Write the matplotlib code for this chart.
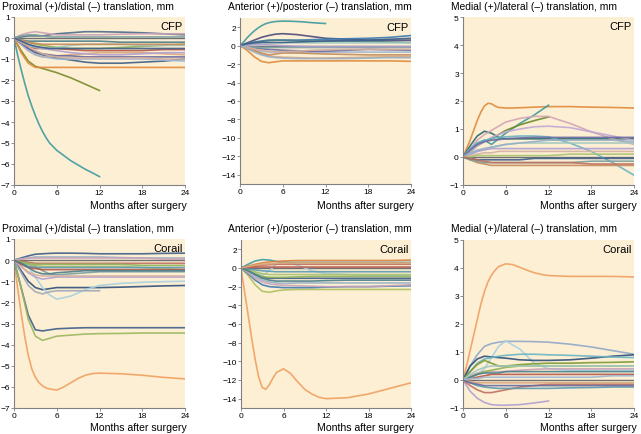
import numpy as np
import matplotlib
matplotlib.use("Agg")
import matplotlib.pyplot as plt

plt.rcParams['font.family'] = ['Liberation Sans', 'DejaVu Sans']

# months after surgery at which values were read
months = [0, 1, 2, 3, 4, 5, 6, 8, 10, 12, 15, 18, 21, 24]
# denser reading for the few curves that bend sharply
months_fine = [0, 0.5, 1, 1.5, 2, 2.5, 3, 3.5, 4, 4.5, 5, 6, 7, 8, 9, 10, 11, 12, 15, 18, 21, 24]

# ---- CFP proximal/distal
cfp_pd = [
    [0, -0.8, -1.5, -2.15, -2.75, -3.25, -3.7, -4.1, -4.45, -4.75, -5.0, -5.35, -5.6, -5.85, -6.05, -6.25, -6.42, -6.6],
    [0, -0.6, -1.1, -1.35, -1.45, -1.55, -1.65, -1.9, -2.2, -2.5],
    [0, -0.7, -1.2, -1.4, -1.4, -1.4, -1.4, -1.4, -1.4, -1.4, -1.4, -1.4, -1.4, -1.4],
    [0, -0.2, -0.5, -0.7, -0.8, -0.9, -0.95, -1.05, -1.15, -1.2, -1.2, -1.15, -1.1, -1.0],
    [0, 0.05, 0.1, 0.1, 0.1, 0.15, 0.2, 0.25, 0.3, 0.3, 0.28, 0.25, 0.2, 0.15],
    [0, 0.15, 0.25, 0.3, 0.25, 0.2, 0.15, 0.15, 0.15, 0.15, 0.18, 0.2, 0.2, 0.2],
    [0, -0.1, -0.2, -0.3, -0.35, -0.4, -0.45, -0.5, -0.5, -0.5, -0.45, -0.4, -0.35, -0.3],
    [0, -0.2, -0.4, -0.5, -0.5, -0.5, -0.5, -0.55, -0.6, -0.6, -0.6, -0.6, -0.55, -0.55],
    [0, -0.1, -0.15, -0.15, -0.15, -0.15, -0.15, -0.15, -0.15, -0.15, -0.2, -0.2, -0.2, -0.2],
    [0, -0.3, -0.6, -0.8, -0.9, -0.9, -0.85, -0.8, -0.75, -0.7, -0.7, -0.7, -0.75, -0.8],
    [0, -0.3, -0.6, -0.8, -0.9, -0.95, -1.0, -1.0, -1.0, -1.0, -1.0, -1.0, -1.05, -1.1],
    [0, -0.25, -0.5, -0.65, -0.75, -0.8, -0.85, -0.85, -0.9, -0.9, -0.9, -0.9, -0.9, -0.9],
    [0, -0.2, -0.35, -0.45, -0.5, -0.5, -0.45, -0.35, -0.3, -0.3, -0.3, -0.35, -0.35, -0.35],
    [0, -0.1, -0.2, -0.25, -0.3, -0.3, -0.3, -0.3, -0.3, -0.3, -0.3, -0.3, -0.3, -0.3],
    [0, 0.1, 0.15, 0.15, 0.1, 0.05, 0.05, 0.05, 0.05, 0.05, 0.05, 0.05, 0.05, 0.05],
    [0, -0.15, -0.3, -0.4, -0.5, -0.55, -0.6, -0.7, -0.75, -0.8, -0.8, -0.75, -0.7, -0.7],
    [0, -0.2, -0.4, -0.6, -0.75, -0.85, -0.9, -0.95, -0.95, -0.95, -0.95, -0.95, -1.0, -1.0],
    [0, -0.15, -0.3, -0.4, -0.45, -0.5, -0.5, -0.5, -0.5, -0.5, -0.5, -0.5, -0.5, -0.5],
]

# ---- CFP anterior/posterior
cfp_ap = [
    [0, 0.4, 0.85, 1.25, 1.6, 1.9, 2.15, 2.35, 2.48, 2.56, 2.62, 2.66, 2.65, 2.62, 2.57, 2.5, 2.45, 2.4],
    [0, -0.5, -1.2, -1.7, -1.85, -1.75, -1.65, -1.65, -1.65, -1.65, -1.65, -1.65, -1.65, -1.7],
    [0, 0.3, 0.6, 0.9, 1.1, 1.25, 1.3, 1.2, 1.0, 0.8, 0.7, 0.6, 0.6, 0.6],
    [0, 0.2, 0.4, 0.5, 0.6, 0.6, 0.6, 0.6, 0.65, 0.7, 0.75, 0.8, 0.9, 1.1],
    [0, 0.15, 0.3, 0.45, 0.55, 0.6, 0.6, 0.55, 0.5, 0.5, 0.5, 0.45, 0.4, 0.35],
    [0, -0.3, -0.6, -0.9, -1.1, -1.2, -1.25, -1.3, -1.35, -1.35, -1.3, -1.25, -1.2, -1.2],
    [0, -0.2, -0.4, -0.6, -0.7, -0.7, -0.7, -0.7, -0.7, -0.7, -0.7, -0.7, -0.7, -0.7],
    [0, -0.1, -0.25, -0.35, -0.4, -0.45, -0.5, -0.55, -0.6, -0.6, -0.5, -0.4, -0.45, -0.5],
    [0, 0.1, 0.2, 0.3, 0.3, 0.3, 0.3, 0.3, 0.3, 0.3, 0.3, 0.3, 0.3, 0.3],
    [0, -0.2, -0.5, -0.8, -1.0, -0.9, -0.8, -0.8, -0.85, -0.9, -0.95, -1.0, -1.0, -1.0],
    [0, -0.1, -0.15, -0.2, -0.2, -0.2, -0.2, -0.2, -0.2, -0.2, -0.2, -0.2, -0.2, -0.2],
    [0, 0.05, 0.1, 0.1, 0.1, 0.05, 0.0, -0.05, -0.1, -0.1, -0.1, -0.1, -0.1, -0.1],
    [0, -0.15, -0.35, -0.5, -0.6, -0.65, -0.65, -0.6, -0.5, -0.45, -0.4, -0.4, -0.4, -0.4],
    [0, 0.2, 0.3, 0.35, 0.35, 0.35, 0.35, 0.4, 0.45, 0.5, 0.55, 0.6, 0.7, 0.8],
    [0, -0.3, -0.7, -1.0, -1.2, -1.3, -1.35, -1.4, -1.4, -1.4, -1.4, -1.35, -1.3, -1.3],
]

# ---- CFP medial/lateral
cfp_ml = [
    [0, 0.3, 0.6, 0.95, 1.3, 1.6, 1.82, 1.92, 1.9, 1.82, 1.77, 1.75, 1.75, 1.76, 1.77, 1.78, 1.79, 1.8, 1.8, 1.78, 1.77, 1.75],
    [0, 0.3, 0.5, 0.6, 0.45, 0.65, 0.85, 1.2, 1.5, 1.85],
    [0, 0.4, 0.75, 0.92, 0.85, 0.7, 0.65, 0.65, 0.65, 0.65, 0.65, 0.65, 0.65, 0.65],
    [0, 0.2, 0.4, 0.55, 0.65, 0.8, 0.95, 1.15, 1.3, 1.43],
    [0, 0.3, 0.6, 0.8, 0.95, 1.1, 1.25, 1.38, 1.45, 1.45, 1.2, 0.9, 0.65, 0.45],
    [0, 0.2, 0.4, 0.55, 0.7, 0.8, 0.9, 1.0, 1.08, 1.1, 1.05, 0.9, 0.75, 0.6],
    [0, 0.3, 0.5, 0.6, 0.65, 0.7, 0.72, 0.75, 0.75, 0.72, 0.5, 0.2, -0.2, -0.65],
    [0, 0.25, 0.45, 0.55, 0.6, 0.62, 0.65, 0.68, 0.7, 0.7, 0.7, 0.7, 0.7, 0.7],
    [0, 0.1, 0.2, 0.3, 0.35, 0.4, 0.45, 0.5, 0.5, 0.5, 0.5, 0.5, 0.5, 0.5],
    [0, -0.1, -0.2, -0.25, -0.3, -0.3, -0.3, -0.3, -0.3, -0.3, -0.3, -0.3, -0.3, -0.3],
    [0, -0.1, -0.15, -0.2, -0.2, -0.2, -0.2, -0.2, -0.2, -0.2, -0.2, -0.15, -0.15, -0.15],
    [0, 0.1, 0.2, 0.25, 0.3, 0.3, 0.3, 0.3, 0.3, 0.3, 0.3, 0.3, 0.3, 0.3],
    [0, 0.05, 0.1, 0.15, 0.15, 0.2, 0.2, 0.2, 0.2, 0.2, 0.2, 0.2, 0.2, 0.2],
    [0, -0.05, -0.1, -0.1, -0.1, -0.1, -0.1, -0.1, -0.05, -0.05, -0.05, -0.05, -0.05, -0.05],
    [0, 0.15, 0.25, 0.3, 0.35, 0.4, 0.45, 0.5, 0.55, 0.6, 0.6, 0.6, 0.6, 0.55],
    [0, 0.0, 0.05, 0.05, 0.05, 0.05, 0.05, 0.05, 0.05, 0.05, 0.1, 0.1, 0.1, 0.1],
    [0, -0.05, -0.1, -0.15, -0.2, -0.2, -0.2, -0.2, -0.2, -0.2, -0.2, -0.25, -0.25, -0.25],
]

# ---- Corail proximal/distal
cor_pd = [
    [0, -1.3, -2.5, -3.6, -4.5, -5.15, -5.55, -5.8, -5.95, -6.05, -6.1, -6.15, -6.0, -5.8, -5.6, -5.45, -5.37, -5.35, -5.38, -5.45, -5.55, -5.62],
    [0, -1.3, -2.6, -3.3, -3.35, -3.3, -3.25, -3.22, -3.2, -3.2, -3.2, -3.2, -3.2, -3.2],
    [0, -1.3, -2.8, -3.6, -3.8, -3.7, -3.6, -3.55, -3.5, -3.48, -3.47, -3.45, -3.45, -3.45],
    [0, -0.5, -1.0, -1.3, -1.4, -1.35, -1.3, -1.3, -1.3, -1.3, -1.28, -1.25, -1.22, -1.2],
    [0, -0.1, -0.3, -0.8, -1.3, -1.65, -1.85, -1.7, -1.4, -1.2, -1.1, -1.05, -1.02, -1.0],
    [0, -0.6, -1.2, -1.5, -1.6, -1.5, -1.45, -1.45, -1.45, -1.45],
    [0, -0.1, -0.2, -0.3, -0.5, -0.65, -0.7, -0.65, -0.6, -0.55, -0.55, -0.55, -0.55, -0.55],
    [0, -0.3, -0.6, -0.8, -0.9, -0.85, -0.8, -0.8, -0.8, -0.8, -0.8, -0.8, -0.8, -0.8],
    [0, -0.3, -0.55, -0.7, -0.75, -0.75, -0.75, -0.75, -0.75, -0.75, -0.75, -0.75, -0.75, -0.75],
    [0, 0.1, 0.2, 0.28, 0.3, 0.32, 0.33, 0.33, 0.32, 0.3, 0.3, 0.3, 0.32, 0.33],
    [0, 0.05, 0.1, 0.15, 0.15, 0.15, 0.15, 0.15, 0.15, 0.15, 0.12, 0.1, 0.1, 0.1],
    [0, -0.1, -0.2, -0.25, -0.3, -0.3, -0.3, -0.3, -0.3, -0.3, -0.3, -0.35, -0.4, -0.45],
    [0, -0.05, -0.1, -0.15, -0.15, -0.15, -0.15, -0.15, -0.15, -0.15, -0.15, -0.15, -0.15, -0.15],
    [0, -0.15, -0.3, -0.35, -0.35, -0.35, -0.35, -0.35, -0.35, -0.35, -0.35, -0.35, -0.35, -0.35],
    [0, 0.05, 0.1, 0.1, 0.1, 0.1, 0.1, 0.1, 0.1, 0.1, 0.1, 0.1, 0.05, 0.05],
    [0, -0.1, -0.15, -0.2, -0.2, -0.2, -0.2, -0.2, -0.2, -0.2, -0.2, -0.25, -0.25, -0.25],
    [0, -0.2, -0.35, -0.4, -0.45, -0.45, -0.45, -0.45, -0.45, -0.45, -0.45, -0.45, -0.45, -0.45],
    [0, -0.15, -0.35, -0.55, -0.65, -0.65, -0.6, -0.55, -0.5, -0.5, -0.5, -0.5, -0.5, -0.5],
]

# ---- Corail anterior/posterior
cor_ap = [
    [0, -2.5, -5.0, -7.5, -9.8, -11.7, -12.8, -13.0, -12.5, -11.8, -11.2, -10.8, -11.3, -12.2, -13.0, -13.5, -13.85, -14.0, -13.9, -13.5, -12.9, -12.3],
    [0, -0.8, -1.8, -2.5, -2.6, -2.45, -2.35, -2.3, -2.3, -2.3, -2.3, -2.3, -2.3, -2.3],
    [0, -0.2, -0.5, -0.8, -0.3, 0.4, 0.7, 0.3, -0.3, -0.6, -0.7, -0.8, -0.8, -0.8],
    [0, 0.4, 0.75, 0.9, 0.85, 0.7, 0.6, 0.6, 0.6, 0.6, 0.6, 0.6, 0.6, 0.6],
    [0, -0.6, -1.3, -1.8, -2.0, -2.05, -2.1, -2.1, -2.1, -2.05, -2.0, -2.0, -1.95, -1.9],
    [0, 0.2, 0.4, 0.55, 0.65, 0.7, 0.75, 0.8, 0.8, 0.8, 0.8, 0.8, 0.8, 0.85],
    [0, -0.3, -0.7, -1.0, -1.1, -1.1, -1.1, -1.1, -1.1, -1.1, -1.1, -1.1, -1.1, -1.1],
    [0, -0.4, -0.9, -1.3, -1.5, -1.6, -1.65, -1.6, -1.6, -1.6, -1.6, -1.6, -1.6, -1.6],
    [0, -0.2, -0.4, -0.6, -0.7, -0.7, -0.7, -0.7, -0.7, -0.7, -0.7, -0.7, -0.7, -0.7],
    [0, 0.1, 0.2, 0.3, 0.35, 0.4, 0.4, 0.4, 0.4, 0.4, 0.4, 0.4, 0.4, 0.4],
    [0, -0.1, -0.2, -0.3, -0.35, -0.4, -0.4, -0.4, -0.4, -0.4, -0.4, -0.4, -0.4, -0.4],
    [0, -0.5, -1.1, -1.5, -1.7, -1.8, -1.85, -1.9, -1.95, -2.0, -2.0, -2.0, -1.9, -1.8],
    [0, -0.3, -0.6, -0.9, -1.0, -1.0, -1.0, -0.95, -0.9, -0.9, -0.9, -0.9, -0.9, -0.9],
    [0, 0.05, 0.1, 0.1, 0.1, 0.1, 0.1, 0.1, 0.1, 0.1, 0.1, 0.1, 0.1, 0.1],
    [0, -0.3, -0.7, -1.1, -1.3, -1.4, -1.4, -1.4, -1.4, -1.35, -1.3, -1.3, -1.3, -1.3],
    [0, 0.15, 0.3, 0.4, 0.45, 0.5, 0.55, 0.55, 0.55, 0.55, 0.55, 0.55, 0.55, 0.55],
]

# ---- Corail medial/lateral
cor_ml = [
    [0, 0.5, 1.05, 1.6, 2.15, 2.7, 3.15, 3.5, 3.75, 3.92, 4.05, 4.15, 4.12, 4.02, 3.92, 3.83, 3.77, 3.73, 3.7, 3.7, 3.7, 3.68],
    [0, 0.5, 0.9, 1.2, 1.3, 1.35, 1.38, 1.38, 1.37, 1.35, 1.28, 1.18, 1.05, 0.92],
    [0, 0.1, 0.2, 0.4, 0.8, 1.2, 1.4, 1.1, 0.6, 0.4, 0.35, 0.35, 0.35, 0.35],
    [0, 0.5, 0.75, 0.85, 0.82, 0.8, 0.78, 0.72, 0.7, 0.7, 0.72, 0.78, 0.85, 0.9],
    [0, 0.3, 0.6, 0.75, 0.8, 0.85, 0.88, 0.92, 0.92, 0.9, 0.88, 0.85, 0.82, 0.8],
    [0, 0.3, 0.55, 0.7, 0.6, 0.5, 0.5, 0.55, 0.58, 0.6, 0.6, 0.62, 0.63, 0.65],
    [0, -0.4, -0.65, -0.8, -0.88, -0.9, -0.9, -0.88, -0.82, -0.75],
    [0, -0.2, -0.35, -0.45, -0.45, -0.4, -0.35, -0.25, -0.2, -0.15, -0.15, -0.15, -0.15, -0.15],
    [0, -0.1, -0.2, -0.25, -0.28, -0.3, -0.3, -0.3, -0.3, -0.3, -0.28, -0.27, -0.25, -0.25],
    [0, 0.15, 0.25, 0.3, 0.3, 0.3, 0.3, 0.35, 0.38, 0.4, 0.4, 0.4, 0.4, 0.4],
    [0, 0.1, 0.2, 0.3, 0.35, 0.4, 0.45, 0.5, 0.5, 0.5, 0.5, 0.5, 0.5, 0.5],
    [0, 0.05, 0.1, 0.15, 0.2, 0.2, 0.2, 0.2, 0.2, 0.2, 0.2, 0.2, 0.2, 0.2],
    [0, 0.1, 0.2, 0.25, 0.25, 0.25, 0.3, 0.3, 0.3, 0.3, 0.3, 0.3, 0.3, 0.3],
    [0, -0.05, -0.1, -0.1, -0.1, -0.1, -0.1, -0.1, -0.1, -0.1, -0.1, -0.1, -0.1, -0.1],
    [0, 0.05, 0.05, 0.1, 0.1, 0.1, 0.1, 0.1, 0.1, 0.1, 0.1, 0.1, 0.15, 0.15],
    [0, -0.1, -0.15, -0.2, -0.2, -0.2, -0.2, -0.2, -0.2, -0.2, -0.2, -0.2, -0.2, -0.2],
    [0, 0.2, 0.35, 0.45, 0.5, 0.5, 0.5, 0.5, 0.5, 0.5, 0.5, 0.5, 0.5, 0.5],
]

titles = ["Proximal (+)/distal (\u2013) translation, mm",
          "Anterior (+)/posterior (\u2013) translation, mm",
          "Medial (+)/lateral (\u2013) translation, mm"] * 2
groups = ["CFP", "CFP", "CFP", "Corail", "Corail", "Corail"]
ylims = [(-7, 1), (-15, 3), (-1, 5)] * 2
yticks = [range(-7, 2), range(-14, 3, 2), range(-1, 6)] * 2
panels = [cfp_pd, cfp_ap, cfp_ml, cor_pd, cor_ap, cor_ml]

# colors: first few are the highlighted ones, the rest cycle
first_cols = [
    ['#3e9aa0', '#7a8a2a', '#e08a3c', '#3d5f8a', '#4a6a8a'],
    ['#3e9aa0', '#e08a3c', '#4a4a7a', '#3a7ab0'],
    ['#e08a3c', '#3e9aa0', '#2a6a6a', '#6a8a2a', '#d4a4b4', '#c0a8d4', '#6ab4c4'],
    ['#f0a060', '#3d5f8a', '#9ab860', '#2f4f7a', '#a8d0e0', '#a0a8b8'],
    ['#f0a060', '#b0c060', '#a8d0e0', '#3e9aa0', '#3a7ab0', '#d88040'],
    ['#f0a060', '#90a8c8', '#a8d0e0', '#2f4f7a', '#6ab4c4', '#7a9a30', '#b0a0d0'],
]
cycle = ['#c9a3b8', '#8fb35a', '#b5574a', '#4a7f8c', '#d9a77a', '#9db7d5',
         '#6a6aa0', '#a0c8c0', '#c48b5a', '#7aa0a0', '#b0a0d0', '#d4b0a0',
         '#3d5f8a', '#96b0c8', '#a8c070', '#c07060', '#5a9ab0']

fig = plt.figure(figsize=(6.41, 4.35), dpi=100)
W, H = 641, 435
boxes = [(14, 18, 185, 186), (240, 19, 411, 185), (463, 18, 634, 186),
         (14, 240, 185, 409), (241, 241, 411, 409), (463, 241, 634, 409)]
title_x = [2, 228, 451, 2, 228, 451]
label_x = [187, 414, 637, 187, 414, 637]

for i, (x0, y0, x1, y1) in enumerate(boxes):
    ax = fig.add_axes([x0 / W, 1 - y1 / H, (x1 - x0) / W, (y1 - y0) / H])
    ax.set_facecolor('#fdefd4')
    ax.axhline(0, color='#707070', lw=1.0, zorder=1)
    cols = first_cols[i]
    k = 0
    for j, s in enumerate(panels[i]):
        if j < len(cols):
            c = cols[j]
        else:
            c = cycle[(k + 3 * i) % len(cycle)]
            k += 1
        t = months_fine if len(s) in (18, 22) else months
        ax.plot(t[:len(s)], s, color=c, lw=1.2, alpha=0.9, zorder=2)
    ax.set_xlim(0, 24)
    ax.set_ylim(*ylims[i])
    ax.set_xticks([0, 6, 12, 18, 24])
    ax.set_yticks(list(yticks[i]))
    ax.set_yticklabels([str(v).replace('-', '\u2212') for v in yticks[i]])
    for sp in ['top', 'right']:
        ax.spines[sp].set_visible(False)
    for sp in ['left', 'bottom']:
        ax.spines[sp].set_color('#808080')
        ax.spines[sp].set_linewidth(0.8)
    ax.tick_params(labelsize=6, length=2, width=0.6, color='#808080', pad=1)
    ax.text(0.985, 0.975, groups[i], transform=ax.transAxes, ha='right', va='top',
            fontsize=8)
    ty = 7 if i < 3 else 229
    fig.text(title_x[i] / W, 1 - ty / H, titles[i], ha='left', va='center', fontsize=7.4)
    ly = 206 if i < 3 else 428
    fig.text(label_x[i] / W, 1 - ly / H, "Months after surgery", ha='right',
             va='center', fontsize=7.6)

fig.savefig("out.png", dpi=100)
